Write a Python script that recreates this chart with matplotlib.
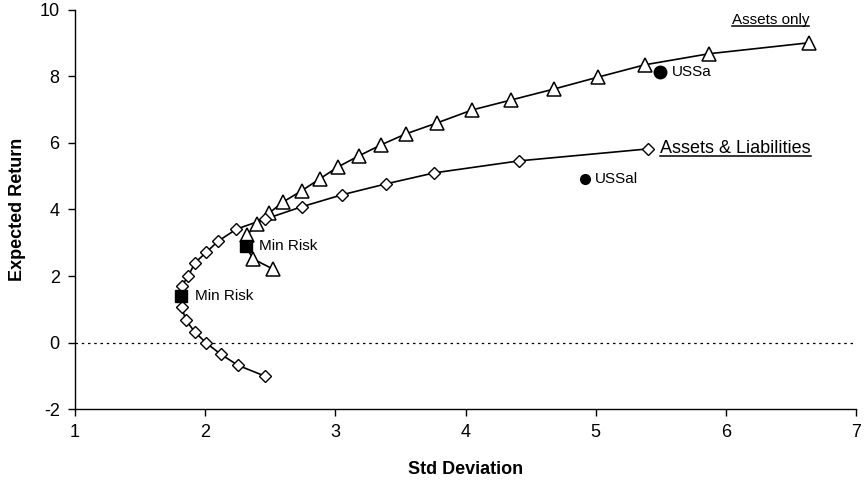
import matplotlib
matplotlib.use("Agg")
import matplotlib.pyplot as plt
from matplotlib.lines import Line2D

plt.rcParams['font.family'] = ['Liberation Sans', 'DejaVu Sans']
plt.rcParams['axes.unicode_minus'] = False

# Efficient frontier, assets only (std deviation, expected return)
assets_sd = [2.52, 2.37, 2.31, 2.32, 2.40, 2.49, 2.60, 2.74, 2.88, 3.02, 3.18,
             3.35, 3.54, 3.78, 4.05, 4.35, 4.68, 5.02, 5.38, 5.87, 6.64]
assets_ret = [2.21, 2.51, 2.90, 3.23, 3.56, 3.89, 4.23, 4.56, 4.92, 5.28, 5.61,
              5.94, 6.27, 6.60, 6.99, 7.29, 7.62, 7.98, 8.35, 8.68, 9.01]
assets_min_idx = 2  # minimum-risk portfolio on the assets-only frontier

# Efficient frontier, assets & liabilities
al_sd = [2.46, 2.25, 2.12, 2.01, 1.92, 1.85, 1.82, 1.815, 1.82, 1.87, 1.92,
         2.01, 2.10, 2.24, 2.46, 2.74, 3.05, 3.39, 3.76, 4.41, 5.40]
al_ret = [-1.01, -0.68, -0.35, -0.02, 0.32, 0.68, 1.07, 1.40, 1.70, 2.00, 2.39,
          2.72, 3.05, 3.41, 3.71, 4.08, 4.44, 4.77, 5.10, 5.46, 5.82]
al_min_idx = 7

# Current portfolios
ussa = (5.49, 8.14)
ussal = (4.92, 4.92)

fig = plt.figure(figsize=(8.68, 4.90), dpi=100)
ax = fig.add_axes([0.0864, 0.165, 0.9000, 0.815])

ax.axhline(0, color='black', lw=0.9, ls=(0, (2, 3)), zorder=1)

# Frontier curves
ax.plot(assets_sd, assets_ret, color='black', lw=1.2, zorder=2)
tri_sd = [v for i, v in enumerate(assets_sd) if i != assets_min_idx]
tri_ret = [v for i, v in enumerate(assets_ret) if i != assets_min_idx]
ax.plot(tri_sd, tri_ret, ls='none', marker='^', ms=10, mfc='white',
        mec='black', mew=1.1, zorder=3)

ax.plot(al_sd, al_ret, color='black', lw=1.2, zorder=2)
dia_sd = [v for i, v in enumerate(al_sd) if i != al_min_idx]
dia_ret = [v for i, v in enumerate(al_ret) if i != al_min_idx]
ax.plot(dia_sd, dia_ret, ls='none', marker='D', ms=6.5, mfc='white',
        mec='black', mew=1.0, zorder=3)

# Minimum-risk points
for i, sd_list, ret_list in [(assets_min_idx, assets_sd, assets_ret),
                             (al_min_idx, al_sd, al_ret)]:
    x, y = sd_list[i], ret_list[i]
    ax.plot([x], [y], ls='none', marker='s', ms=9, color='black', zorder=4)
    ax.annotate('Min Risk', (x, y), xytext=(10, 0), textcoords='offset points',
                va='center', ha='left', fontsize=11)

# Current portfolios
ax.plot([ussa[0]], [ussa[1]], 'o', color='black', ms=9, zorder=4)
ax.annotate('USSa', ussa, xytext=(9, 0), textcoords='offset points',
            va='center', ha='left', fontsize=11)
ax.plot([ussal[0]], [ussal[1]], 'o', color='black', ms=7, zorder=4)
ax.annotate('USSal', ussal, xytext=(7, 0), textcoords='offset points',
            va='center', ha='left', fontsize=11)

# Series labels (underlined)
lbl_assets = ax.annotate('Assets only', (assets_sd[-1], assets_ret[-1]),
                         xytext=(0, 11), textcoords='offset points',
                         ha='right', va='bottom', fontsize=11)
lbl_al = ax.annotate('Assets & Liabilities', (al_sd[-1], al_ret[-1]),
                     xytext=(9, 0), textcoords='offset points',
                     ha='left', va='center', fontsize=13)

ax.set_xlim(1, 7)
ax.set_ylim(-2, 10)
ax.set_xticks(range(1, 8))
ax.set_yticks(range(-2, 11, 2))
ax.tick_params(direction='out', length=5, width=1, labelsize=13, pad=6)
for side in ('top', 'right'):
    ax.spines[side].set_visible(False)
for side in ('left', 'bottom'):
    ax.spines[side].set_linewidth(1)

ax.set_xlabel('Std Deviation', fontsize=13, fontweight='bold', labelpad=14)
ax.set_ylabel('Expected Return', fontsize=13, fontweight='bold', labelpad=10)

fig.canvas.draw()
inv = fig.transFigure.inverted()
for t in (lbl_assets, lbl_al):
    bb = t.get_window_extent()
    y = bb.y0 + 1
    (x0, yy), (x1, _) = inv.transform([(bb.x0, y), (bb.x1, y)])
    fig.add_artist(Line2D([x0, x1], [yy, yy], transform=fig.transFigure,
                          color='black', lw=1.1))

fig.savefig('out.png', dpi=100)
